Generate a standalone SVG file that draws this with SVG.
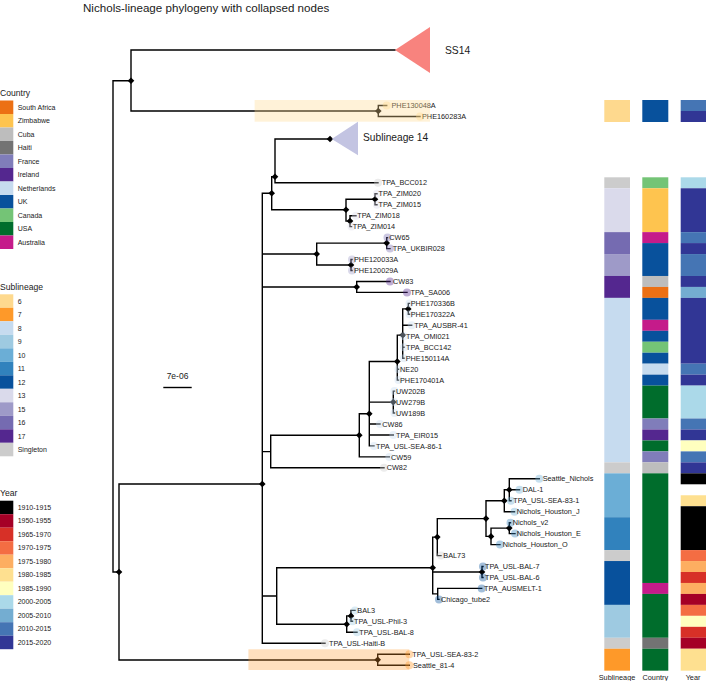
<svg xmlns="http://www.w3.org/2000/svg" xmlns:xlink="http://www.w3.org/1999/xlink" width="706" height="681" viewBox="0 0 706 681">
<style>
text{font-family:"Liberation Sans",Arial,sans-serif;fill:#1a1a1a}
.title{font-size:11.6px}
.lt{font-size:8.6px}
.ll{font-size:7px}
.tl{font-size:7.3px}
.br{stroke:#000;stroke-width:1.4;fill:none;stroke-linecap:square}
.tp{opacity:0.38}
.cSA{fill:#ec7014}.cZW{fill:#fec44f}.cCU{fill:#bdbdbd}.cHT{fill:#737373}.cFR{fill:#807dba}.cIE{fill:#54278f}.cNL{fill:#c6dbef}.cUK{fill:#08519c}.cCA{fill:#74c476}.cUS{fill:#006d2c}.cAU{fill:#c51b8a}
.s6{fill:#fed98e}.s7{fill:#fe9929}.s8{fill:#c6dbef}.s9{fill:#9ecae1}.s10{fill:#6baed6}.s11{fill:#3182bd}.s12{fill:#08519c}.s13{fill:#dadaeb}.s15{fill:#9e9ac8}.s16{fill:#756bb1}.s17{fill:#54278f}.sS{fill:#cccccc}
.y1{fill:#000000}.y2{fill:#a50026}.y3{fill:#d73027}.y4{fill:#f46d43}.y5{fill:#fdae61}.y6{fill:#fee090}.y7{fill:#ffffbf}.y8{fill:#abd9e9}.y9{fill:#74add1}.y10{fill:#4575b4}.y11{fill:#313695}
</style>
<defs>
<path id="dm" d="M0,-3.3L3.3,0L0,3.3L-3.3,0Z" fill="#000"/>
</defs>
<rect width="706" height="681" fill="#fff"/>
<text class="title" x="83" y="11.5">Nichols-lineage phylogeny with collapsed nodes</text>

<!-- Legend: Country -->
<g id="legend-country">
<text class="lt" x="0" y="96">Country</text>
<rect class="cSA" x="0" y="100.5" width="13.3" height="13.5"/><text class="ll" x="17.7" y="109.7">South Africa</text>
<rect class="cZW" x="0" y="114" width="13.3" height="13.5"/><text class="ll" x="17.7" y="123.2">Zimbabwe</text>
<rect class="cCU" x="0" y="127.5" width="13.3" height="13.5"/><text class="ll" x="17.7" y="136.7">Cuba</text>
<rect class="cHT" x="0" y="141" width="13.3" height="13.5"/><text class="ll" x="17.7" y="150.2">Haiti</text>
<rect class="cFR" x="0" y="154.5" width="13.3" height="13.5"/><text class="ll" x="17.7" y="163.7">France</text>
<rect class="cIE" x="0" y="168" width="13.3" height="13.5"/><text class="ll" x="17.7" y="177.2">Ireland</text>
<rect class="cNL" x="0" y="181.5" width="13.3" height="13.5"/><text class="ll" x="17.7" y="190.7">Netherlands</text>
<rect class="cUK" x="0" y="195" width="13.3" height="13.5"/><text class="ll" x="17.7" y="204.2">UK</text>
<rect class="cCA" x="0" y="208.5" width="13.3" height="13.5"/><text class="ll" x="17.7" y="217.7">Canada</text>
<rect class="cUS" x="0" y="222" width="13.3" height="13.5"/><text class="ll" x="17.7" y="231.2">USA</text>
<rect class="cAU" x="0" y="235.5" width="13.3" height="13.5"/><text class="ll" x="17.7" y="244.7">Australia</text>
</g>

<!-- Legend: Sublineage -->
<g id="legend-sublineage">
<text class="lt" x="0" y="289.5">Sublineage</text>
<rect class="s6" x="0" y="294.3" width="13.3" height="13.5"/><text class="ll" x="17.7" y="303.5">6</text>
<rect class="s7" x="0" y="307.8" width="13.3" height="13.5"/><text class="ll" x="17.7" y="317">7</text>
<rect class="s8" x="0" y="321.3" width="13.3" height="13.5"/><text class="ll" x="17.7" y="330.5">8</text>
<rect class="s9" x="0" y="334.8" width="13.3" height="13.5"/><text class="ll" x="17.7" y="344">9</text>
<rect class="s10" x="0" y="348.3" width="13.3" height="13.5"/><text class="ll" x="17.7" y="357.5">10</text>
<rect class="s11" x="0" y="361.8" width="13.3" height="13.5"/><text class="ll" x="17.7" y="371">11</text>
<rect class="s12" x="0" y="375.3" width="13.3" height="13.5"/><text class="ll" x="17.7" y="384.5">12</text>
<rect class="s13" x="0" y="388.8" width="13.3" height="13.5"/><text class="ll" x="17.7" y="398">13</text>
<rect class="s15" x="0" y="402.3" width="13.3" height="13.5"/><text class="ll" x="17.7" y="411.5">15</text>
<rect class="s16" x="0" y="415.8" width="13.3" height="13.5"/><text class="ll" x="17.7" y="425">16</text>
<rect class="s17" x="0" y="429.3" width="13.3" height="13.5"/><text class="ll" x="17.7" y="438.5">17</text>
<rect class="sS" x="0" y="442.8" width="13.3" height="13.5"/><text class="ll" x="17.7" y="452">Singleton</text>
</g>

<!-- Legend: Year -->
<g id="legend-year">
<text class="lt" x="0" y="495.5">Year</text>
<rect class="y1" x="0" y="500.7" width="13.3" height="13.5"/><text class="ll" x="17.7" y="509.9">1910-1915</text>
<rect class="y2" x="0" y="514.2" width="13.3" height="13.5"/><text class="ll" x="17.7" y="523.4">1950-1955</text>
<rect class="y3" x="0" y="527.7" width="13.3" height="13.5"/><text class="ll" x="17.7" y="536.9">1965-1970</text>
<rect class="y4" x="0" y="541.2" width="13.3" height="13.5"/><text class="ll" x="17.7" y="550.4">1970-1975</text>
<rect class="y5" x="0" y="554.7" width="13.3" height="13.5"/><text class="ll" x="17.7" y="563.9">1975-1980</text>
<rect class="y6" x="0" y="568.2" width="13.3" height="13.5"/><text class="ll" x="17.7" y="577.4">1980-1985</text>
<rect class="y7" x="0" y="581.7" width="13.3" height="13.5"/><text class="ll" x="17.7" y="590.9">1985-1990</text>
<rect class="y8" x="0" y="595.2" width="13.3" height="13.5"/><text class="ll" x="17.7" y="604.4">2000-2005</text>
<rect class="y9" x="0" y="608.7" width="13.3" height="13.5"/><text class="ll" x="17.7" y="617.9">2005-2010</text>
<rect class="y10" x="0" y="622.2" width="13.3" height="13.5"/><text class="ll" x="17.7" y="631.4">2010-2015</text>
<rect class="y11" x="0" y="635.7" width="13.3" height="13.5"/><text class="ll" x="17.7" y="644.9">2015-2020</text>
</g>

<!-- Scale bar -->
<g id="scale-bar">
<text class="ll" x="177.5" y="379" text-anchor="middle" style="font-size:8.5px">7e-06</text>
<path class="br" d="M164,387.5H191"/>
</g>

<!-- Connectors (branches) -->
<g id="connectors">
<path class="br" d="M113,80.7V572H119M113,80.7H131M131,50V111M131,50H395M131,111H378.3M378.3,105.5V116.5M378.3,105.5H386.7M378.3,116.5H420
M119,484V660M119,484H262.3M119,660H377.7M377.7,654.2V665.2M377.7,654.2H409.3M377.7,665.2H409.3
M262.3,193.3V643.3M262.3,193.3H271.7M271.7,176.7V209.7M271.7,176.7H275M275,139V182.8M275,139H330M275,182.8H378M271.7,209.7H346
M346,199.2V221.1M346,199.2H375M375,193.7V204.7M375,193.7H377M375,204.7H377M346,221.1H350M350,215.7V226.6M350,215.7H356M350,226.6H351.5
M262.3,254H316.7M316.7,243.1V265M316.7,243.1H386.7M386.7,237.6V248.6M386.7,237.6H387.5M386.7,248.6H390M316.7,265H351M351,259.5V270.5M351,259.5H352M351,270.5H352
M262.3,287H356.7M356.7,281.5V292.4M356.7,281.5H390M356.7,292.4H407
M262.3,451.6H270.7M270.7,435.3V467.8M270.7,435.3H359.3M270.7,467.8H384M359.3,413.7V456.9M359.3,413.7H369.3M359.3,456.9H389.3
M369.3,361.5V445.9M369.3,361.5H397.3M369.3,402.1H393.3M369.3,424H380M369.3,435H393.3M369.3,445.9H374
M393.3,391.1V413M393.3,391.1H394.5M393.3,413H394.5
M397.3,335.1V380.1M397.3,335.1H402.7M397.3,369.2H398.5M397.3,380.1H398.5
M402.7,308.9V358.2M402.7,308.9H408.3M402.7,325.3H411.7M402.7,336.3H404M402.7,347.2H404M402.7,358.2H404
M408.3,303.4V314.3M408.3,303.4H409.5M408.3,314.3H409.5
M262.3,596H276.7M276.7,567.7V624.2M276.7,567.7H432.7M276.7,624.2H346.7
M432.7,537.1V593.9M432.7,537.1H437.3M432.7,572H482M432.7,593.9H437.7
M437.3,518.6V555.6M437.3,518.6H486M437.3,555.6H441
M486,500.75V536.4M486,500.75H504.3M486,536.4H491
M504.3,489.8V511.7M504.3,489.8H509.3M504.3,511.7H514.5
M509.3,478.8V500.7M509.3,478.8H539.3M509.3,489.8H519.5M509.3,500.7H511
M491,528.1V544.6M491,528.1H509.3M491,544.6H500
M509.3,522.7V533.6M509.3,522.7H510.5M509.3,533.6H515
M482,566.5V577.5M482,566.5H483M482,577.5H483
M437.7,588.4V599.4M437.7,588.4H481.7M437.7,599.4H439
M346.7,615.9V632.3M346.7,615.9H351M346.7,632.3H357
M351,610.4V621.3M351,610.4H355M351,621.3H352.5
M262.3,643.3H325"/>
</g>

<!-- Internal nodes -->
<g id="n-ss14root"><use xlink:href="#dm" x="131" y="80.7"/></g>
<g id="n-phe6"><use xlink:href="#dm" x="378.3" y="111"/></g>
<g id="n-nicholsroot"><use xlink:href="#dm" x="119" y="572"/></g>
<g id="n-main"><use xlink:href="#dm" x="262.3" y="484"/></g>
<g id="n-sub14"><use xlink:href="#dm" x="330" y="139"/></g>
<g id="n-b"><use xlink:href="#dm" x="275" y="176.7"/></g>
<g id="n-a"><use xlink:href="#dm" x="271.7" y="193.3"/></g>
<g id="n-zim"><use xlink:href="#dm" x="346" y="209.7"/></g>
<g id="n-zim1"><use xlink:href="#dm" x="375" y="199.2"/></g>
<g id="n-zim2"><use xlink:href="#dm" x="350" y="221.1"/></g>
<g id="n-f"><use xlink:href="#dm" x="316.7" y="254"/></g>
<g id="n-cw65"><use xlink:href="#dm" x="386.7" y="243.1"/></g>
<g id="n-phe12"><use xlink:href="#dm" x="351" y="265"/></g>
<g id="n-cw83"><use xlink:href="#dm" x="356.7" y="287"/></g>
<g id="n-phe17"><use xlink:href="#dm" x="408.3" y="308.9"/></g>
<g id="n-h"><use xlink:href="#dm" x="402.7" y="335.1"/></g>
<g id="n-i"><use xlink:href="#dm" x="397.3" y="361.5"/></g>
<g id="n-uw"><use xlink:href="#dm" x="393.3" y="402.1"/></g>
<g id="n-k"><use xlink:href="#dm" x="369.3" y="413.7"/></g>
<g id="n-l"><use xlink:href="#dm" x="359.3" y="435.3"/></g>
<g id="n-n"><use xlink:href="#dm" x="509.3" y="489.8"/></g>
<g id="n-o"><use xlink:href="#dm" x="504.3" y="500.75"/></g>
<g id="n-s"><use xlink:href="#dm" x="486" y="518.6"/></g>
<g id="n-q"><use xlink:href="#dm" x="509.3" y="528.1"/></g>
<g id="n-r"><use xlink:href="#dm" x="491" y="536.4"/></g>
<g id="n-t"><use xlink:href="#dm" x="437.3" y="537.1"/></g>
<g id="n-u"><use xlink:href="#dm" x="432.7" y="567.7"/></g>
<g id="n-v"><use xlink:href="#dm" x="482" y="572"/></g>
<g id="n-y"><use xlink:href="#dm" x="346.7" y="624.2"/></g>
<g id="n-z"><use xlink:href="#dm" x="351" y="615.9"/></g>
<g id="n-sea"><use xlink:href="#dm" x="377.7" y="659.7"/></g>

<!-- Collapsed clades -->
<g id="clade-ss14">
<path d="M395,50L430,27V73Z" fill="#f8837e"/>
<text x="445" y="54" style="font-size:10.3px">SS14</text>
</g>
<g id="clade-sub14">
<path d="M331.7,139L358,121.7V155.3Z" fill="#c3c4e2"/>
<text x="363" y="140.5" style="font-size:10.2px">Sublineage 14</text>
</g>

<!-- Tips -->
<g id="tip-PHE130048A"><circle class="s6 tp" cx="386.7" cy="105.5" r="4"/><text class="tl" x="391.5" y="108.1">PHE130048A</text></g>
<g id="tip-PHE160283A"><circle class="s6 tp" cx="420" cy="116.5" r="4"/><text class="tl" x="422" y="119.1">PHE160283A</text></g>
<g id="tip-TPA_BCC012"><circle class="sS tp" cx="378" cy="182.8" r="4"/><text class="tl" x="381.7" y="185.4">TPA_BCC012</text></g>
<g id="tip-TPA_ZIM020"><circle class="s13 tp" cx="377" cy="193.7" r="4"/><text class="tl" x="378.5" y="196.3">TPA_ZIM020</text></g>
<g id="tip-TPA_ZIM015"><circle class="s13 tp" cx="377" cy="204.7" r="4"/><text class="tl" x="378.5" y="207.3">TPA_ZIM015</text></g>
<g id="tip-TPA_ZIM018"><circle class="s13 tp" cx="356" cy="215.7" r="4"/><text class="tl" x="357.3" y="218.3">TPA_ZIM018</text></g>
<g id="tip-TPA_ZIM014"><circle class="s13 tp" cx="351.5" cy="226.6" r="4"/><text class="tl" x="352.7" y="229.2">TPA_ZIM014</text></g>
<g id="tip-CW65"><circle class="s16 tp" cx="387.5" cy="237.6" r="4"/><text class="tl" x="389.3" y="240.2">CW65</text></g>
<g id="tip-TPA_UKBIR028"><circle class="s16 tp" cx="390" cy="248.6" r="4"/><text class="tl" x="392.7" y="251.2">TPA_UKBIR028</text></g>
<g id="tip-PHE120033A"><circle class="s15 tp" cx="352" cy="259.5" r="4"/><text class="tl" x="354" y="262.1">PHE120033A</text></g>
<g id="tip-PHE120029A"><circle class="s15 tp" cx="352" cy="270.5" r="4"/><text class="tl" x="354" y="273.1">PHE120029A</text></g>
<g id="tip-CW83"><circle class="s17 tp" cx="390" cy="281.5" r="4"/><text class="tl" x="393" y="284.1">CW83</text></g>
<g id="tip-TPA_SA006"><circle class="s17 tp" cx="407" cy="292.4" r="4"/><text class="tl" x="410.5" y="295">TPA_SA006</text></g>
<g id="tip-PHE170336B"><circle class="s8 tp" cx="409.5" cy="303.4" r="4"/><text class="tl" x="410.7" y="306">PHE170336B</text></g>
<g id="tip-PHE170322A"><circle class="s8 tp" cx="409.5" cy="314.3" r="4"/><text class="tl" x="410.7" y="316.9">PHE170322A</text></g>
<g id="tip-TPA_AUSBR-41"><circle class="s8 tp" cx="411.7" cy="325.3" r="4"/><text class="tl" x="414.3" y="327.9">TPA_AUSBR-41</text></g>
<g id="tip-TPA_OMI021"><circle class="s8 tp" cx="404" cy="336.3" r="4"/><text class="tl" x="406" y="338.9">TPA_OMI021</text></g>
<g id="tip-TPA_BCC142"><circle class="s8 tp" cx="404" cy="347.2" r="4"/><text class="tl" x="406" y="349.8">TPA_BCC142</text></g>
<g id="tip-PHE150114A"><circle class="s8 tp" cx="404" cy="358.2" r="4"/><text class="tl" x="405.7" y="360.8">PHE150114A</text></g>
<g id="tip-NE20"><circle class="s8 tp" cx="398.5" cy="369.2" r="4"/><text class="tl" x="400" y="371.8">NE20</text></g>
<g id="tip-PHE170401A"><circle class="s8 tp" cx="398.5" cy="380.1" r="4"/><text class="tl" x="400" y="382.7">PHE170401A</text></g>
<g id="tip-UW202B"><circle class="s8 tp" cx="394.5" cy="391.1" r="4"/><text class="tl" x="396" y="393.7">UW202B</text></g>
<g id="tip-UW279B"><circle class="s8 tp" cx="394" cy="402.1" r="4"/><text class="tl" x="396" y="404.7">UW279B</text></g>
<g id="tip-UW189B"><circle class="s8 tp" cx="394.5" cy="413" r="4"/><text class="tl" x="396" y="415.6">UW189B</text></g>
<g id="tip-CW86"><circle class="s8 tp" cx="380" cy="424" r="4"/><text class="tl" x="382.3" y="426.6">CW86</text></g>
<g id="tip-TPA_EIR015"><circle class="s8 tp" cx="393.3" cy="435" r="4"/><text class="tl" x="396" y="437.6">TPA_EIR015</text></g>
<g id="tip-TPA_USL-SEA-86-1"><circle class="s8 tp" cx="374" cy="445.9" r="4"/><text class="tl" x="376" y="448.5">TPA_USL-SEA-86-1</text></g>
<g id="tip-CW59"><circle class="s8 tp" cx="389.3" cy="456.9" r="4"/><text class="tl" x="391" y="459.5">CW59</text></g>
<g id="tip-CW82"><circle class="sS tp" cx="384" cy="467.8" r="4"/><text class="tl" x="386.7" y="470.4">CW82</text></g>
<g id="tip-Seattle_Nichols"><circle class="s10 tp" cx="539.3" cy="478.8" r="4"/><text class="tl" x="542.7" y="481.4">Seattle_Nichols</text></g>
<g id="tip-DAL-1"><circle class="s10 tp" cx="519.5" cy="489.8" r="4"/><text class="tl" x="522.7" y="492.4">DAL-1</text></g>
<g id="tip-TPA_USL-SEA-83-1"><circle class="s10 tp" cx="511" cy="500.7" r="4"/><text class="tl" x="513.3" y="503.3">TPA_USL-SEA-83-1</text></g>
<g id="tip-Nichols_Houston_J"><circle class="s10 tp" cx="514.5" cy="511.7" r="4"/><text class="tl" x="516.7" y="514.3">Nichols_Houston_J</text></g>
<g id="tip-Nichols_v2"><circle class="s11 tp" cx="510.5" cy="522.7" r="4"/><text class="tl" x="512.7" y="525.3">Nichols_v2</text></g>
<g id="tip-Nichols_Houston_E"><circle class="s11 tp" cx="515" cy="533.6" r="4"/><text class="tl" x="516.7" y="536.2">Nichols_Houston_E</text></g>
<g id="tip-Nichols_Houston_O"><circle class="s11 tp" cx="500" cy="544.6" r="4"/><text class="tl" x="502.7" y="547.2">Nichols_Houston_O</text></g>
<g id="tip-BAL73"><circle class="sS tp" cx="441" cy="555.6" r="4"/><text class="tl" x="443.3" y="558.2">BAL73</text></g>
<g id="tip-TPA_USL-BAL-7"><circle class="s12 tp" cx="483" cy="566.5" r="4"/><text class="tl" x="485" y="569.1">TPA_USL-BAL-7</text></g>
<g id="tip-TPA_USL-BAL-6"><circle class="s12 tp" cx="483" cy="577.5" r="4"/><text class="tl" x="485" y="580.1">TPA_USL-BAL-6</text></g>
<g id="tip-TPA_AUSMELT-1"><circle class="s12 tp" cx="481.7" cy="588.4" r="4"/><text class="tl" x="484" y="591">TPA_AUSMELT-1</text></g>
<g id="tip-Chicago_tube2"><circle class="s12 tp" cx="439" cy="599.4" r="4"/><text class="tl" x="441" y="602">Chicago_tube2</text></g>
<g id="tip-BAL3"><circle class="s9 tp" cx="355" cy="610.4" r="4"/><text class="tl" x="357.3" y="613">BAL3</text></g>
<g id="tip-TPA_USL-Phil-3"><circle class="s9 tp" cx="352.5" cy="621.3" r="4"/><text class="tl" x="354" y="623.9">TPA_USL-Phil-3</text></g>
<g id="tip-TPA_USL-BAL-8"><circle class="s9 tp" cx="357" cy="632.3" r="4"/><text class="tl" x="359.3" y="634.9">TPA_USL-BAL-8</text></g>
<g id="tip-TPA_USL-Haiti-B"><circle class="sS tp" cx="325" cy="643.3" r="4"/><text class="tl" x="329" y="645.9">TPA_USL-Haiti-B</text></g>
<g id="tip-TPA_USL-SEA-83-2"><circle class="s7 tp" cx="409.3" cy="654.2" r="4"/><text class="tl" x="412.3" y="656.8">TPA_USL-SEA-83-2</text></g>
<g id="tip-Seattle_81-4"><circle class="s7 tp" cx="409.3" cy="665.2" r="4"/><text class="tl" x="413" y="667.8">Seattle_81-4</text></g>

<!-- Highlights -->
<g id="highlight-sub6"><rect x="254.6" y="100" width="175.4" height="21.7" fill="#fed98e" opacity="0.35"/></g>
<g id="highlight-sub7"><rect x="248.4" y="649.3" width="160.9" height="20.7" fill="#fe9929" opacity="0.3"/></g>

<!-- Heatmap: Sublineage -->
<g id="heat-sublineage">
<rect class="s6" x="604.3" y="100" width="25.7" height="22"/>
<rect class="sS" x="604.3" y="177.3" width="25.7" height="10.96"/>
<rect class="s13" x="604.3" y="188.26" width="25.7" height="43.86"/>
<rect class="s16" x="604.3" y="232.12" width="25.7" height="21.93"/>
<rect class="s15" x="604.3" y="254.05" width="25.7" height="21.93"/>
<rect class="s17" x="604.3" y="275.98" width="25.7" height="21.92"/>
<rect class="s8" x="604.3" y="297.9" width="25.7" height="164.46"/>
<rect class="sS" x="604.3" y="462.36" width="25.7" height="10.97"/>
<rect class="s10" x="604.3" y="473.33" width="25.7" height="43.85"/>
<rect class="s11" x="604.3" y="517.18" width="25.7" height="32.9"/>
<rect class="sS" x="604.3" y="550.08" width="25.7" height="10.96"/>
<rect class="s12" x="604.3" y="561.04" width="25.7" height="43.86"/>
<rect class="s9" x="604.3" y="604.9" width="25.7" height="32.89"/>
<rect class="sS" x="604.3" y="637.79" width="25.7" height="10.96"/>
<rect class="s7" x="604.3" y="648.75" width="25.7" height="21.93"/>
</g>

<!-- Heatmap: Country -->
<g id="heat-country">
<rect class="cUK" x="642.3" y="100" width="26" height="22"/>
<rect class="cCA" x="642.3" y="177.3" width="26" height="10.96"/>
<rect class="cZW" x="642.3" y="188.26" width="26" height="43.86"/>
<rect class="cAU" x="642.3" y="232.12" width="26" height="10.96"/>
<rect class="cUK" x="642.3" y="243.08" width="26" height="32.9"/>
<rect class="cCU" x="642.3" y="275.98" width="26" height="10.96"/>
<rect class="cSA" x="642.3" y="286.94" width="26" height="10.96"/>
<rect class="cUK" x="642.3" y="297.9" width="26" height="21.93"/>
<rect class="cAU" x="642.3" y="319.83" width="26" height="10.97"/>
<rect class="cUK" x="642.3" y="330.8" width="26" height="10.96"/>
<rect class="cCA" x="642.3" y="341.76" width="26" height="10.96"/>
<rect class="cUK" x="642.3" y="352.72" width="26" height="10.97"/>
<rect class="cNL" x="642.3" y="363.69" width="26" height="10.96"/>
<rect class="cUK" x="642.3" y="374.65" width="26" height="10.97"/>
<rect class="cUS" x="642.3" y="385.62" width="26" height="32.89"/>
<rect class="cFR" x="642.3" y="418.51" width="26" height="10.96"/>
<rect class="cIE" x="642.3" y="429.47" width="26" height="10.97"/>
<rect class="cUS" x="642.3" y="440.44" width="26" height="10.96"/>
<rect class="cFR" x="642.3" y="451.4" width="26" height="10.96"/>
<rect class="cCU" x="642.3" y="462.36" width="26" height="10.97"/>
<rect class="cUS" x="642.3" y="473.33" width="26" height="109.64"/>
<rect class="cAU" x="642.3" y="582.97" width="26" height="10.96"/>
<rect class="cUS" x="642.3" y="593.93" width="26" height="43.86"/>
<rect class="cHT" x="642.3" y="637.79" width="26" height="10.96"/>
<rect class="cUS" x="642.3" y="648.75" width="26" height="21.93"/>
</g>

<!-- Heatmap: Year -->
<g id="heat-year">
<rect class="y10" x="680.7" y="100" width="26" height="11"/>
<rect class="y11" x="680.7" y="111" width="26" height="11"/>
<rect class="y8" x="680.7" y="177.3" width="26" height="10.96"/>
<rect class="y11" x="680.7" y="188.26" width="26" height="43.86"/>
<rect class="y10" x="680.7" y="232.12" width="26" height="10.96"/>
<rect class="y11" x="680.7" y="243.08" width="26" height="10.97"/>
<rect class="y10" x="680.7" y="254.05" width="26" height="21.93"/>
<rect class="y11" x="680.7" y="275.98" width="26" height="10.96"/>
<rect class="y9" x="680.7" y="286.94" width="26" height="10.96"/>
<rect class="y11" x="680.7" y="297.9" width="26" height="65.79"/>
<rect class="y10" x="680.7" y="363.69" width="26" height="10.96"/>
<rect class="y11" x="680.7" y="374.65" width="26" height="10.97"/>
<rect class="y8" x="680.7" y="385.62" width="26" height="32.89"/>
<rect class="y10" x="680.7" y="418.51" width="26" height="10.96"/>
<rect class="y11" x="680.7" y="429.47" width="26" height="10.97"/>
<rect class="y7" x="680.7" y="440.44" width="26" height="10.96"/>
<rect class="y10" x="680.7" y="451.4" width="26" height="10.96"/>
<rect class="y11" x="680.7" y="462.36" width="26" height="10.97"/>
<rect class="y1" x="680.7" y="473.33" width="26" height="10.96"/>
<rect class="y6" x="680.7" y="495.26" width="26" height="10.96"/>
<rect class="y1" x="680.7" y="506.22" width="26" height="43.86"/>
<rect class="y4" x="680.7" y="550.08" width="26" height="10.96"/>
<rect class="y5" x="680.7" y="561.04" width="26" height="10.96"/>
<rect class="y3" x="680.7" y="572" width="26" height="10.97"/>
<rect class="y5" x="680.7" y="582.97" width="26" height="10.96"/>
<rect class="y2" x="680.7" y="593.93" width="26" height="10.97"/>
<rect class="y4" x="680.7" y="604.9" width="26" height="10.96"/>
<rect class="y7" x="680.7" y="615.86" width="26" height="10.96"/>
<rect class="y3" x="680.7" y="626.82" width="26" height="10.97"/>
<rect class="y2" x="680.7" y="637.79" width="26" height="10.96"/>
<rect class="y6" x="680.7" y="648.75" width="26" height="21.93"/>
</g>

<g id="heat-labels">
<text class="tl" x="617" y="679.5" text-anchor="middle">Sublineage</text>
<text class="tl" x="655.3" y="679.5" text-anchor="middle">Country</text>
<text class="tl" x="693" y="679.5" text-anchor="middle">Year</text>
</g>
</svg>
